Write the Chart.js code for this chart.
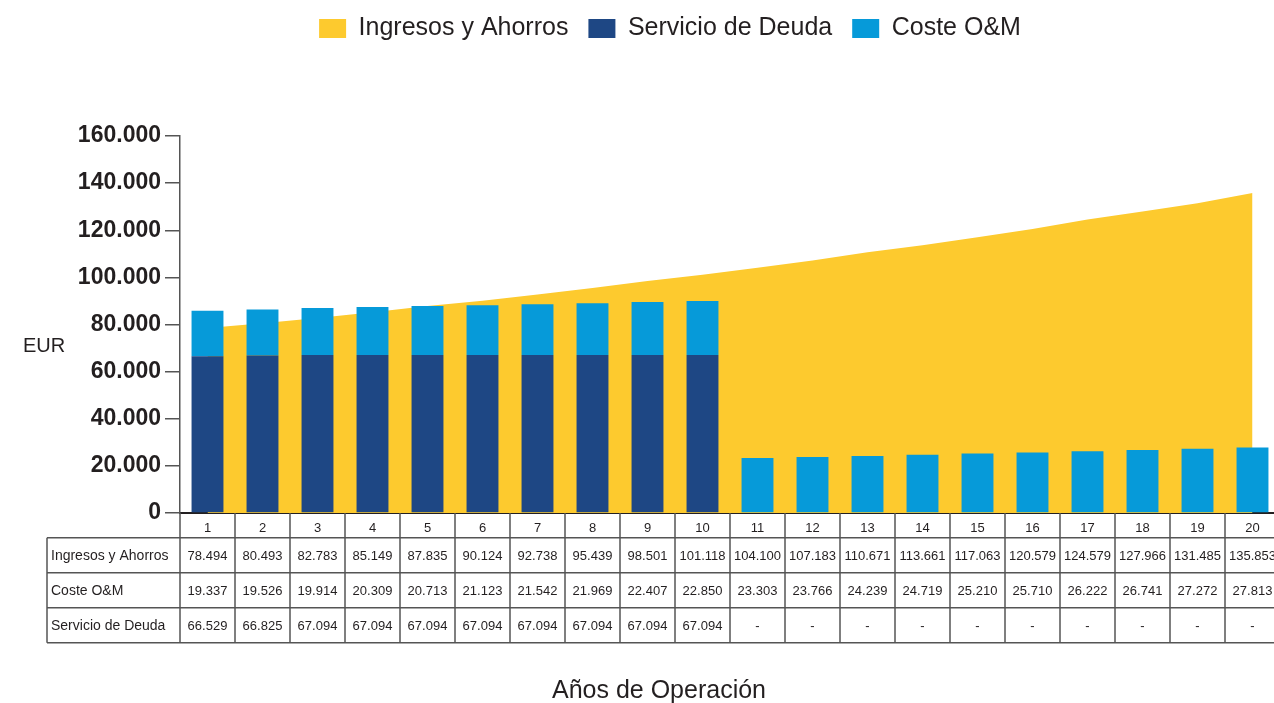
<!DOCTYPE html>
<html>
<head>
<meta charset="utf-8">
<script src="https://cdn.jsdelivr.net/npm/chart.js@4/dist/chart.umd.min.js"></script>
<style>
  html, body { margin: 0; padding: 0; background: #fff; overflow: hidden; }
  #wrap { position: relative; width: 1280px; height: 703px; }
</style>
</head>
<body>
<div id="wrap"><canvas id="c"></canvas></div>
<script>
// ---- data ----
const years = ['1','2','3','4','5','6','7','8','9','10','11','12','13','14','15','16','17','18','19','20'];
const ingresos = [78494, 80493, 82783, 85149, 87835, 90124, 92738, 95439, 98501, 101118, 104100, 107183, 110671, 113661, 117063, 120579, 124579, 127966, 131485, 135853];
const costeOM = [19337, 19526, 19914, 20309, 20713, 21123, 21542, 21969, 22407, 22850, 23303, 23766, 24239, 24719, 25210, 25710, 26222, 26741, 27272, 27813];
const servicioDeuda = [66529, 66825, 67094, 67094, 67094, 67094, 67094, 67094, 67094, 67094, null, null, null, null, null, null, null, null, null, null];
const seriesNames = ['Ingresos y Ahorros', 'Servicio de Deuda', 'Coste O&M'];
const tableRowNames = ['Ingresos y Ahorros', 'Coste O&M', 'Servicio de Deuda'];
const yTicksMax = 160000;
const yTickStep = 20000;
const yAxisLabel = 'EUR';
const xAxisLabel = 'Años de Operación';

const TEXT = '#231f20';
const LINE = '#555555';
const FONT = "'Liberation Sans', Arial, sans-serif";

function fmt(v) {
  if (v === null || v === undefined) return '-';
  return String(Math.round(v)).replace(/\B(?=(\d{3})+(?!\d))/g, '.');
}

const legendGap = {
  id: 'legendGap',
  beforeInit(chart) {
    const orig = chart.legend.fit;
    chart.legend.fit = function () {
      orig.call(this);
      this.height = 140;
    };
  }
};

const tablePlugin = {
  id: 'dataTable',
  afterDraw(chart) {
    const { ctx, chartArea } = chart;
    const xs = chart.scales.x;
    const n = years.length;
    const cw = xs.width / n;
    const top0 = chartArea.bottom;
    const headBottom = top0 + 24.7;
    const rowH = 35;
    const tableBottom = headBottom + rowH * 3;
    const left = 47;
    const right = xs.right;
    const rows = [ingresos, costeOM, servicioDeuda];

    ctx.save();
    ctx.strokeStyle = LINE;
    ctx.lineWidth = 1.5;
    const seg = (x1, y1, x2, y2) => { ctx.beginPath(); ctx.moveTo(x1, y1); ctx.lineTo(x2, y2); ctx.stroke(); };
    for (let r = 0; r <= 3; r++) {
      const y = headBottom + r * rowH;
      seg(left, y, right, y);
    }
    seg(left, headBottom, left, tableBottom);
    for (let i = 0; i <= n; i++) {
      const x = xs.left + i * cw;
      seg(x, top0, x, tableBottom);
    }

    ctx.fillStyle = TEXT;
    ctx.textBaseline = 'middle';
    ctx.textAlign = 'left';
    ctx.font = "14px " + FONT;
    for (let r = 0; r < 3; r++) {
      ctx.fillText(tableRowNames[r], 51, headBottom + r * rowH + rowH / 2 + 1);
    }
    ctx.textAlign = 'center';
    ctx.font = "13px " + FONT;
    for (let r = 0; r < 3; r++) {
      for (let i = 0; i < n; i++) {
        ctx.fillText(fmt(rows[r][i]), xs.getPixelForValue(i), headBottom + r * rowH + rowH / 2 + 1);
      }
    }

    // EUR label
    ctx.textAlign = 'left';
    ctx.font = "20px " + FONT;
    ctx.fillText(yAxisLabel, 23, 346);

    // x axis title, centred under the table
    ctx.textAlign = 'center';
    ctx.font = "25px " + FONT;
    ctx.fillText(xAxisLabel, 659, 691);
    ctx.restore();
  }
};

Chart.defaults.font.family = FONT;
Chart.defaults.color = TEXT;

new Chart(document.getElementById('c'), {
  data: {
    labels: years,
    datasets: [
      {
        type: 'line',
        label: seriesNames[0],
        data: ingresos,
        backgroundColor: '#FDCA2E',
        borderColor: '#FDCA2E',
        borderWidth: 0,
        pointRadius: 0,
        tension: 0,
        fill: 'origin',
        stack: 'area',
        order: 2
      },
      {
        type: 'bar',
        label: seriesNames[1],
        data: servicioDeuda,
        backgroundColor: '#1E4784',
        borderWidth: 0,
        stack: 'bars',
        order: 0,
        categoryPercentage: 1,
        barPercentage: 0.58
      },
      {
        type: 'bar',
        label: seriesNames[2],
        data: costeOM,
        backgroundColor: '#069AD9',
        borderWidth: 0,
        stack: 'bars',
        order: 0,
        categoryPercentage: 1,
        barPercentage: 0.58
      }
    ]
  },
  options: {
    responsive: true,
    maintainAspectRatio: false,
    animation: false,
    layout: { padding: { left: 60, right: 0, top: -4, bottom: 0 } },
    plugins: {
      tooltip: { enabled: false },
      legend: {
        position: 'top',
        labels: {
          boxWidth: 27,
          boxHeight: 19,
          padding: 20,
          color: TEXT,
          font: { size: 25 },
          sort: (a, b) => a.datasetIndex - b.datasetIndex
        }
      }
    },
    scales: {
      x: {
        stacked: true,
        offset: true,
        afterFit(scale) { scale.height = 190; },
        grid: { display: false, drawTicks: false },
        border: { display: true, color: TEXT, width: 2 },
        ticks: { color: TEXT, font: { size: 13 }, padding: 8, maxRotation: 0, autoSkip: false }
      },
      y: {
        stacked: true,
        min: 0,
        max: yTicksMax,
        afterFit(scale) { scale.width = 120; },
        grid: { drawOnChartArea: false, drawTicks: true, tickLength: 15, color: LINE, lineWidth: 1.5 },
        border: { display: true, color: LINE, width: 1.5 },
        ticks: {
          stepSize: yTickStep,
          padding: 4,
          color: TEXT,
          font: { size: 23, weight: 'bold' },
          callback: (v) => fmt(v)
        }
      }
    }
  },
  plugins: [legendGap, tablePlugin]
});
</script>
</body>
</html>
